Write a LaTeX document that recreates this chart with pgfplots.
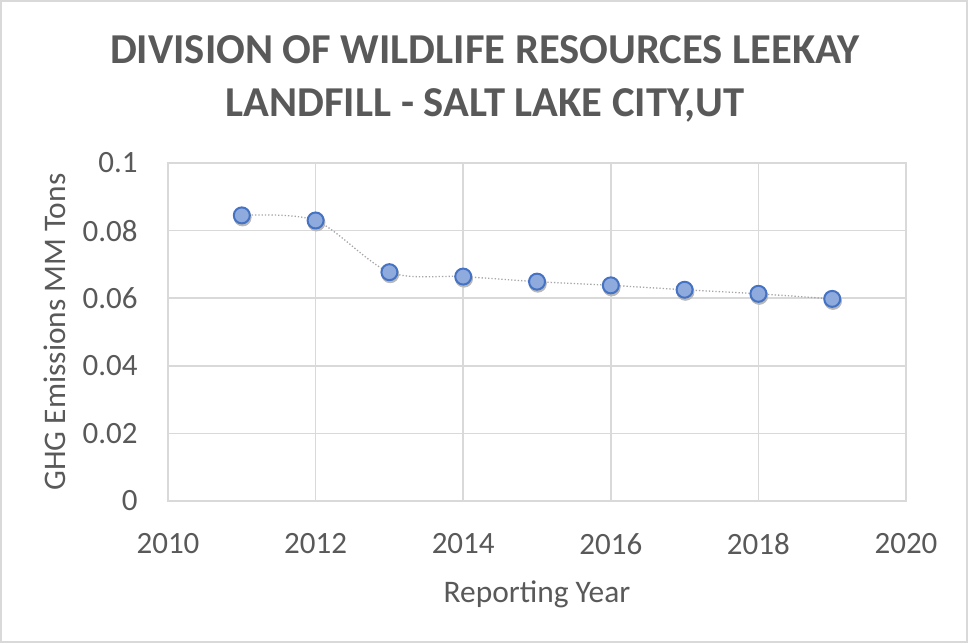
\documentclass[border=0pt]{standalone}
\usepackage{pgfplots}
\pgfplotsset{compat=1.18}
\usepackage{fontspec}
\setmainfont{Carlito}
\definecolor{txt}{HTML}{595959}
\definecolor{gridc}{HTML}{D9D9D9}
\definecolor{mfill}{HTML}{8FAADC}
\definecolor{medge}{HTML}{4472C4}
\definecolor{linec}{HTML}{A6A6A6}
\definecolor{shadowc}{HTML}{B8B8B8}
\begin{document}
\begin{tikzpicture}
\path[use as bounding box] (0pt,0pt) rectangle (484pt,321.5pt);
\draw[draw=gridc, line width=1pt] (0.5pt,0.5pt) rectangle (483.5pt,321pt);
\node[anchor=base, inner sep=0pt, text=txt, font=\fontsize{21.3pt}{25pt}\selectfont\bfseries] at (242.5pt,289.85pt) {DIVISION OF WILDLIFE RESOURCES LEEKAY};
\node[anchor=base, inner sep=0pt, text=txt, font=\fontsize{21.3pt}{25pt}\selectfont\bfseries] at (242.5pt,263.15pt) {LANDFILL - SALT LAKE CITY,UT};
\pgfplotstableread{
year value
2011 0.0845
2012 0.0830
2013 0.0677
2014 0.0664
2015 0.0649
2016 0.0638
2017 0.0625
2018 0.0613
2019 0.0598
}\datatab
\begin{axis}[
  at={(84pt,71pt)}, anchor=south west,
  scale only axis, width=369pt, height=169pt,
  xmin=2010, xmax=2020, ymin=0, ymax=0.1,
  xtick={2010,2012,...,2020},
  ytick={0,0.02,0.04,0.06,0.08,0.1},
  yticklabels={0,0.02,0.04,0.06,0.08,0.1},
  xticklabels={2010,2012,2014,2016,2018,2020},
  grid=major,
  major grid style={draw=gridc, line width=0.8pt},
  axis line style={draw=gridc, line width=0.8pt},
  major tick length=0pt,
  tick style={draw=none},
  /pgf/number format/assume math mode=true,
  ticklabel style={text=txt, font=\fontsize{15.5pt}{18pt}\selectfont},
  yticklabel style={anchor=east, inner sep=0pt, xshift=-15pt},
  xticklabel style={anchor=north, inner sep=0pt, yshift=-16pt},
  xlabel={Reporting Year},
  ylabel={GHG Emissions MM Tons},
  label style={text=txt, font=\fontsize{15.7pt}{18pt}\selectfont},
  xlabel style={at={(axis description cs:0.5,-0.2337)}, anchor=north, inner sep=0pt},
  ylabel style={at={(axis description cs:-0.1382,0.5)}, anchor=south, inner sep=0pt},
  clip=false,
]
\addplot[color=linec, densely dotted, line width=0.65pt, smooth, tension=0.5, no marks]
  table[x=year, y=value] {\datatab};
\addplot[only marks, mark=*, mark size=4.3pt, color=shadowc,
  mark options={draw=none, fill=shadowc, xshift=0.4pt, yshift=-1pt}]
  table[x=year, y=value] {\datatab};
\addplot[only marks, mark=*, mark size=4pt,
  mark options={solid, fill=mfill, draw=medge, line width=1pt}]
  table[x=year, y=value] {\datatab};
\end{axis}
\end{tikzpicture}
\end{document}
